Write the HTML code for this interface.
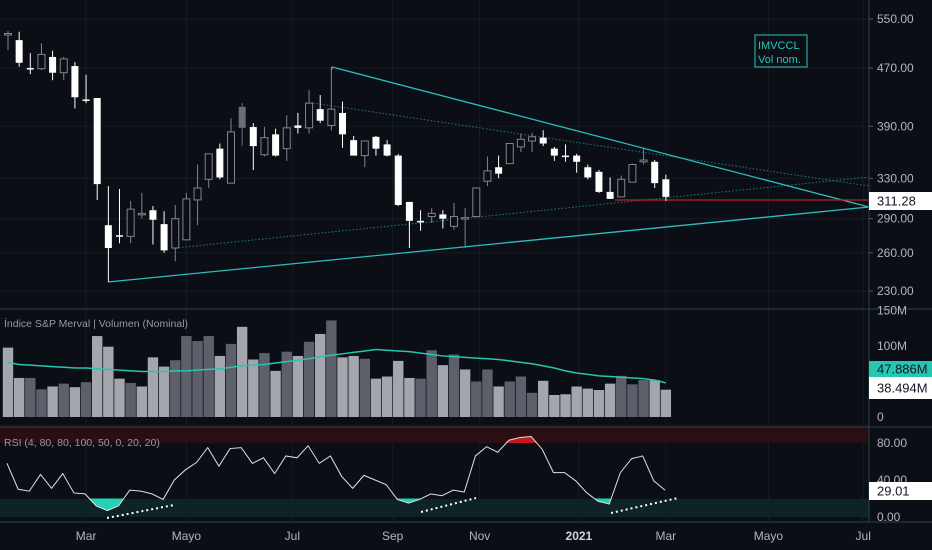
<!DOCTYPE html>
<html><head><meta charset="utf-8"><style>
html,body{margin:0;padding:0;background:#0c0e15;width:932px;height:550px;overflow:hidden}
svg{display:block;font-family:"Liberation Sans",sans-serif}
</style></head><body>
<svg id="c" width="932" height="550" viewBox="0 0 932 550">
<rect x="0" y="0" width="932" height="550" fill="#0c0e15"/>
<g id="grid"></g>
<rect x="0" y="425" width="869" height="18" fill="#2a0e14"/>
<rect x="0" y="499" width="869" height="18" fill="#0d2326"/>
<g id="main"></g>
<g id="vol"></g>
<g id="rsi"></g>
<line x1="0" y1="309" x2="932" y2="309" stroke="#1f3538" stroke-width="1.5"/>
<line x1="0" y1="427" x2="932" y2="427" stroke="#1f3538" stroke-width="1.5"/>
<line x1="0" y1="522" x2="932" y2="522" stroke="#1f3538" stroke-width="1.5"/>
<line x1="869" y1="0" x2="869" y2="522" stroke="#1f3538" stroke-width="1.5"/>
<g id="axes" font-size="12" fill="#b2b5be"></g>
<text x="4" y="327" font-size="10.5" fill="#9598a1">Índice S&amp;P Merval | Volumen (Nominal)</text>
<text x="4" y="446" font-size="10.5" fill="#9598a1">RSI (4, 80, 80, 100, 50, 0, 20, 20)</text>
<g>
<rect x="755" y="35" width="52" height="32" fill="none" stroke="#26c6c0" stroke-width="1"/>
<text x="758" y="49" font-size="11" fill="#26c6c0">IMVCCL</text>
<text x="758" y="63" font-size="11" fill="#26c6c0">Vol nom.</text>
</g>
</svg>
<script>
const opens=[523,514,470,469,487,463,473,425,427,284,275,274,294,298,285,264,271,308,329,363,325,415,389,356,380,363,391,388,412,391,407,373,355,377,368,355,306,288,292,294,283,290,292,327,342,346,365,372,376,363,355,355,342,337,316,311,326,348,348,329];
const highs=[529,528,493,509,497,487,479,460,427,322,319,307,315,302,297,303,315,345,357,369,400,420,394,389,387,404,407,438,431,472,422,378,372,378,373,357,306,298,300,298,305,300,320,354,355,369,381,382,385,365,368,357,345,339,331,333,346,364,350,334];
const lows=[498,472,461,467,452,452,413,420,308,237,268,268,290,267,260,253,271,284,320,329,325,366,339,354,354,349,381,381,394,385,364,355,342,355,354,302,264,279,286,281,280,264,292,322,330,346,359,359,366,349,348,336,329,315,309,311,326,345,320,307];
const closes=[525,478,468,491,463,484,428,423,324,264,274,299,295,289,262,290,309,320,357,331,383,388,366,376,355,388,388,420,397,412,380,355,372,363,355,303,288,288,295,290,292,291,320,338,335,369,374,377,369,355,355,348,331,316,309,329,345,350,325,311];
const volumes=[97.7,55,55,39,43,47,42,49,114,99,54,48,43,84,71,80,114,107,114,86,103,127,81,90,65,92,86,106,117,136,84,86,82,54,57,79,55,54,94,73,88,67,50,67,43,50,57,34,51,31,32,43,40,38,47,58,46,52,52,38.5];
const volDark=[0,0,1,1,0,1,0,1,0,0,0,1,0,0,0,1,1,1,1,0,1,0,0,1,0,1,0,1,0,1,0,0,1,0,0,0,0,1,1,0,1,0,1,1,0,1,1,1,0,0,0,0,0,0,0,1,1,1,0,0];
const volMA=[77,74,73,72,71,70,69,69,68,67,66,65,64,64,64,65,65,66,67,68,70,72,73,74,76,78,80,82,85,87,89,91,93,95,94,93,92,90,88,86,85,84,83,82,81,79,77,75,72,69,65,62,60,58,57,56,55,54,52,48];
const rsiVals=[58,30,28,46,31,47,26,25,12,7,12,29,28,25,19,40,51,59,75,55,74,75,58,64,47,66,64,77,58,66,44,31,45,40,35,19,15,19,25,23,29,27,66,76,70,83,86,87,73,48,48,39,26,17,14,48,63,66,39,29];
const priceTicks=[550,470,390,330,290,260,230];
const volTicks=[150,100,0];
const volTickLabels=["150M","100M","0"];
const rsiTicks=[80,40,0];
const monthLabels=["Mar","Mayo","Jul","Sep","Nov","2021","Mar","Mayo","Jul"];
const monthIndex=[7,16,25.5,34.5,42.3,51.2,59,68.2,76.7];

const NS="http://www.w3.org/2000/svg";
function mk(tag,attrs,parent){const e=document.createElementNS(NS,tag);for(const k in attrs)e.setAttribute(k,attrs[k]);parent.appendChild(e);return e;}
const xAt=i=>8+i*11.15;
const yP=p=>19+(Math.log(550)-Math.log(p))*312;
const yV=v=>417-v*0.71;
const xR=i=>7+i*(658/(rsiVals.length-1));
const yR=r=>517-r*0.925;
const grid=document.getElementById('grid'),main=document.getElementById('main'),vol=document.getElementById('vol'),rsi=document.getElementById('rsi'),axes=document.getElementById('axes');

// grid
priceTicks.forEach(t=>{const l=mk('line',{x1:0,x2:869,y1:yP(t),y2:yP(t),stroke:'#151c24','stroke-width':1},grid);

});
monthIndex.forEach(m=>{const x=xAt(m);const l=mk('line',{x1:x,x2:x,y1:0,y2:522,stroke:'#151c24','stroke-width':1},grid);

});

// trendlines
function tl(x1,y1,x2,y2,name,dash,w,col){const l=mk('line',{x1,y1,x2,y2,stroke:col||'#2bbfbf','stroke-width':w||1.3},main);if(dash)l.setAttribute('stroke-dasharray',dash);

}
tl(313,103,869,186,'upper-dotted-trendline','1.5 2',1,'#1f7c78');
tl(175,248,869,177,'lower-dotted-trendline','1.5 2',1,'#1f7c78');
tl(332,67,869,207,'upper-trendline');
tl(108,282,869,207,'lower-trendline');
tl(615,200,869,200,'support-line',null,1.2,'#b5222c');
mk('line',{x1:332,y1:67,x2:332,y2:70,stroke:'#888'},main);

// candles
opens.forEach((o,i)=>{const c=closes[i],x=xAt(i),up=c>o;const dark=(i===21);
const col=up?'#808390':(dark?'#6a6d78':'#ffffff');
const g=mk('g',{},main);


mk('line',{x1:x,x2:x,y1:yP(highs[i]),y2:yP(lows[i]),stroke:col,'stroke-width':1},g);
const top=yP(Math.max(o,c)),bot=yP(Math.min(o,c));
mk('rect',{x:x-3.5,y:top,width:7,height:Math.max(1.5,bot-top),fill:up?'#0c0e15':col,stroke:col,'stroke-width':up?1:0},g);});

// volume
volumes.forEach((v,i)=>{const r=mk('rect',{x:xAt(i)-5.2,y:yV(v),width:10.4,height:417-yV(v),fill:volDark[i]?'#5d606b':'#a3a6ad'},vol);

});
const ma=mk('polyline',{points:volMA.map((v,i)=>xAt(i)+','+yV(v)).join(' '),fill:'none',stroke:'#26c6b0','stroke-width':1.5},vol);



// rsi fills
const defs=mk('defs',{},rsi);
const c1=mk('clipPath',{id:'below20'},defs);mk('rect',{x:0,y:yR(20),width:869,height:40},c1);
const c2=mk('clipPath',{id:'above80'},defs);mk('rect',{x:0,y:yR(100),width:869,height:yR(80)-yR(100)},c2);
const pts=rsiVals.map((v,i)=>xR(i)+','+yR(v)).join(' ');
const f1=mk('polygon',{points:xR(0)+','+yR(20)+' '+pts+' '+xR(rsiVals.length-1)+','+yR(20),fill:'#26d0b4','clip-path':'url(#below20)'},rsi);


const f2=mk('polygon',{points:xR(0)+','+yR(80)+' '+pts+' '+xR(rsiVals.length-1)+','+yR(80),fill:'#c4161f','clip-path':'url(#above80)'},rsi);


const rl=mk('polyline',{points:pts,fill:'none',stroke:'#e0e0e0','stroke-width':1},rsi);


[[107,518,174,505],[421,512,476,498],[611,513,678,498]].forEach(d=>{const l=mk('line',{x1:d[0],y1:d[1],x2:d[2],y2:d[3],stroke:'#ffffff','stroke-width':2,'stroke-dasharray':'2 3'},rsi);

});

// axes
function txt(x,y,s,name,extra){const t=mk('text',Object.assign({x,y},extra||{}),axes);t.textContent=s;

return t;}
priceTicks.forEach(t=>{txt(877,yP(t)+4,t.toFixed(2),'price-tick-label');mk('line',{x1:869,x2:873,y1:yP(t),y2:yP(t),stroke:'#555'},axes);});
volTicks.forEach((t,i)=>txt(877,yV(t)+4,volTickLabels[i],'volume-tick-label'));
rsiTicks.forEach(t=>txt(877,yR(t)+4,t.toFixed(2),'rsi-tick-label'));
monthLabels.forEach((m,i)=>txt(xAt(monthIndex[i]),540,m,'time-axis-label',{'text-anchor':'middle',fill:m==='2021'?'#d1d4dc':'#b2b5be','font-weight':m==='2021'?'bold':'normal'}));
function badge(y,h,bg,fg,s,name){const g=mk('g',{},axes);


mk('rect',{x:869,y,width:63,height:h,fill:bg},g);const t=mk('text',{x:877,y:y+h/2+4.5,fill:fg,'font-size':13},g);t.textContent=s;}
badge(192,18,'#ffffff','#131722',closes[closes.length-1].toFixed(2)==='311.00'?'311.28':closes[closes.length-1].toFixed(2),'last-price-label');
badge(361,16,'#26c6b0','#131722','47.886M','volume-ma-label');
badge(377,22,'#ffffff','#131722','38.494M','last-volume-label');
badge(482,18,'#ffffff','#131722',rsiVals[rsiVals.length-1].toFixed(2)==='29.00'?'29.01':rsiVals[rsiVals.length-1].toFixed(2),'rsi-value-label');
</script>
</body></html>
